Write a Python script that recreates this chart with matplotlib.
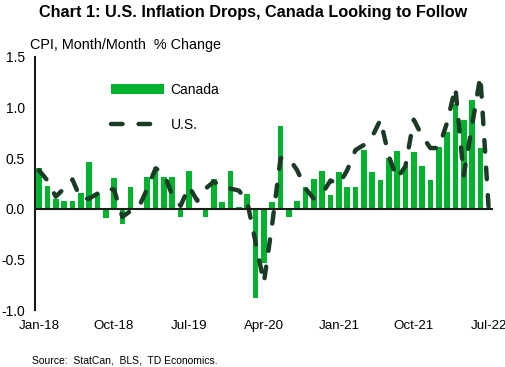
import numpy as np
import pandas as pd
import matplotlib
matplotlib.use('Agg')
import matplotlib.pyplot as plt
from matplotlib.patches import Patch
from matplotlib.lines import Line2D

plt.rcParams['font.family'] = ['Liberation Sans', 'DejaVu Sans']

# monthly CPI, m/m % change, Jan-18 .. Jul-22
months = pd.date_range('2018-01-01', '2022-07-01', freq='MS')
canada = [0.40, 0.23, 0.10, 0.08, 0.08, 0.16, 0.46, 0.16, -0.09, 0.30, -0.15, 0.22,
          0.00, 0.31, 0.37, 0.31, 0.31, -0.08, 0.37, 0.00, -0.08, 0.29, 0.07, 0.37,
          0.02, 0.15, -0.88, -0.53, 0.07, 0.82, -0.08, 0.08, 0.22, 0.29, 0.37, 0.14,
          0.36, 0.22, 0.22, 0.58, 0.36, 0.28, 0.50, 0.57, 0.42, 0.56, 0.42, 0.28,
          0.61, 0.76, 1.03, 0.88, 1.07, 0.60, np.nan]
us = [0.38, 0.28, 0.12, 0.20, 0.29, 0.10, 0.10, 0.15, 0.20, 0.19, -0.08, -0.02,
      0.02, 0.20, 0.40, 0.35, 0.13, 0.03, 0.22, 0.08, 0.20, 0.27, 0.21, 0.20,
      0.18, 0.07, -0.33, -0.73, -0.15, 0.50, 0.50, 0.38, 0.20, 0.10, 0.15, 0.28,
      0.24, 0.38, 0.58, 0.63, 0.71, 0.88, 0.52, 0.30, 0.42, 0.88, 0.72, 0.60,
      0.60, 0.85, 1.20, 0.33, 0.82, 1.31, 0.00]
tick_labels = ['Jan-18', 'Oct-18', 'Jul-19', 'Apr-20', 'Jan-21', 'Oct-21', 'Jul-22']
y_ticks = [-1.0, -0.5, 0.0, 0.5, 1.0, 1.5]

GREEN = '#00B22D'
DARK = '#1C3B27'

fig = plt.figure(figsize=(5.06, 3.67), dpi=100, facecolor='white')
ax = fig.add_axes([0.069, 0.155, 0.905, 0.690])

x = np.arange(len(months))
ax.bar(x, canada, width=0.68, color=GREEN, zorder=2)
ax.plot(x, us, color=DARK, linewidth=3.2, dashes=(2.6, 3.6),
        dash_capstyle='round', solid_capstyle='round', zorder=3)
ax.axhline(0, color='#1a1a1a', linewidth=1.5, zorder=4)

ax.set_xlim(-0.5, len(months) - 0.5)
ax.set_ylim(-1.0, 1.5)
ax.set_yticks(y_ticks)
ax.set_yticklabels([f'{v:.1f}' for v in y_ticks], fontsize=10)
ax.set_xticks(x[::9])
ax.set_xticklabels(tick_labels, fontsize=9.6)
ax.tick_params(axis='both', length=0)
ax.tick_params(axis='y', pad=7)
ax.tick_params(axis='x', pad=7)
for s in ['top', 'right', 'bottom']:
    ax.spines[s].set_visible(False)
ax.spines['left'].set_color('#1a1a1a')
ax.spines['left'].set_linewidth(1.5)

handles = [Patch(facecolor=GREEN, edgecolor='none', label='Canada'),
           Line2D([0], [0], color=DARK, linewidth=3.2, dashes=(2.6, 3.6),
                  dash_capstyle='round', label='U.S.')]
ax.legend(handles=handles, loc='upper left', bbox_to_anchor=(0.167, 0.898),
          frameon=False, fontsize=10, handlelength=3.8, handletextpad=0.45,
          labelspacing=1.55, borderpad=0, borderaxespad=0)

fig.text(0.5, 0.965, 'Chart 1: U.S. Inflation Drops, Canada Looking to Follow',
         ha='center', va='center', fontsize=11.7, fontweight='bold')
fig.text(0.059, 0.877, 'CPI, Month/Month  % Change', ha='left', va='center',
         fontsize=10.4)
fig.text(0.063, 0.018, 'Source:  StatCan,  BLS,  TD Economics.', ha='left',
         va='center', fontsize=7.5)

fig.savefig('out.png', dpi=100)
